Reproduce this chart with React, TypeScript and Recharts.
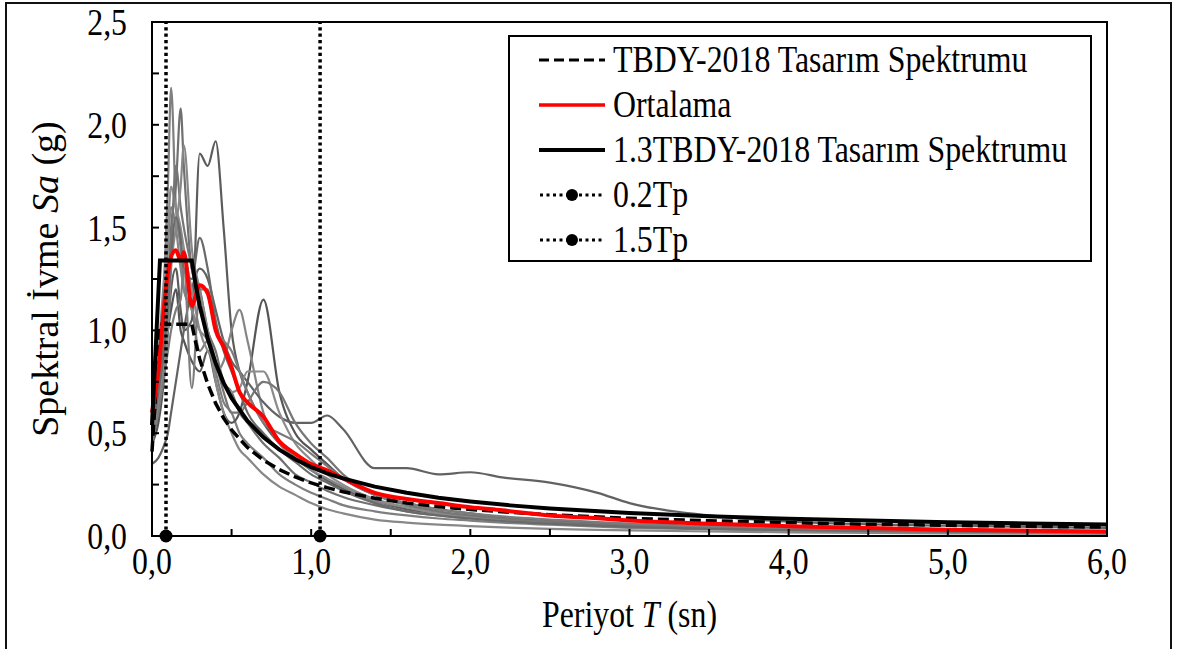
import React from 'react';
import { LineChart, Line, XAxis, YAxis, ReferenceArea } from 'recharts';

const FONT = '"Liberation Serif", "Times New Roman", Times, serif';
const SQUEEZE = 0.86; // the figure's text is a bit narrow

// periods of the recorded spectra (s)
const periodT = [0, 0.04, 0.08, 0.1, 0.12, 0.15, 0.18, 0.2, 0.25, 0.3, 0.35, 0.4, 0.45, 0.5, 0.55, 0.6, 0.7, 0.8, 0.9, 1.0, 1.1, 1.2, 1.4, 1.6, 1.8, 2.0, 2.2, 2.5, 2.8, 3.0, 3.5, 4.0, 5.0, 6.0];

// scaled record spectra Sa (g)
const rec01 = [0.5, 0.8, 1.3, 1.7, 2.18, 1.6, 1.4, 1.2, 1.1, 0.9, 0.95, 0.8, 0.65, 0.6, 0.5, 0.45, 0.38, 0.3, 0.25, 0.21, 0.18, 0.15, 0.12, 0.1, 0.085, 0.075, 0.065, 0.055, 0.045, 0.04, 0.032, 0.027, 0.02, 0.015];
const rec02 = [0.55, 0.7, 1.0, 1.2, 1.5, 1.7, 2.08, 1.8, 1.3, 1.2, 1.0, 0.9, 0.75, 0.7, 0.6, 0.55, 0.45, 0.38, 0.3, 0.26, 0.22, 0.19, 0.15, 0.12, 0.1, 0.085, 0.075, 0.062, 0.052, 0.046, 0.036, 0.03, 0.022, 0.017];
const rec03 = [0.48, 0.6, 0.9, 1.0, 1.2, 1.3, 1.1, 1.0, 1.05, 1.86, 1.8, 1.92, 1.5, 1.0, 0.8, 0.7, 0.55, 0.45, 0.38, 0.32, 0.27, 0.23, 0.17, 0.13, 0.11, 0.09, 0.08, 0.065, 0.055, 0.05, 0.04, 0.033, 0.025, 0.02];
const rec04 = [0.45, 0.55, 0.8, 1.0, 1.1, 1.2, 1.0, 0.95, 0.85, 0.8, 0.9, 0.75, 0.6, 0.55, 0.6, 0.75, 1.15, 0.7, 0.5, 0.42, 0.35, 0.28, 0.2, 0.16, 0.13, 0.11, 0.09, 0.075, 0.062, 0.055, 0.045, 0.037, 0.028, 0.022];
const rec05 = [0.5, 0.7, 1.1, 1.4, 1.6, 1.5, 1.3, 1.2, 1.1, 1.0, 0.95, 0.8, 0.85, 1.0, 1.1, 0.95, 0.6, 0.45, 0.38, 0.32, 0.28, 0.24, 0.17, 0.14, 0.11, 0.095, 0.08, 0.065, 0.055, 0.05, 0.04, 0.033, 0.025, 0.02];
const rec06 = [0.35, 0.38, 0.45, 0.5, 0.6, 0.75, 0.9, 1.0, 1.2, 1.3, 1.25, 1.1, 0.95, 0.85, 0.8, 0.75, 0.65, 0.58, 0.55, 0.55, 0.586, 0.52, 0.33, 0.33, 0.3, 0.31, 0.285, 0.26, 0.21, 0.16, 0.1, 0.07, 0.05, 0.04];
const rec07 = [0.6, 0.9, 1.3, 1.5, 1.7, 1.6, 1.5, 1.4, 1.2, 1.0, 0.9, 0.85, 0.75, 0.7, 0.72, 0.8, 0.8, 0.6, 0.45, 0.37, 0.3, 0.25, 0.18, 0.14, 0.11, 0.09, 0.078, 0.065, 0.055, 0.048, 0.038, 0.031, 0.023, 0.018];
const rec08 = [0.55, 0.75, 1.0, 1.2, 1.4, 1.8, 1.6, 1.5, 1.3, 1.1, 1.0, 0.85, 0.7, 0.6, 0.6, 0.65, 0.75, 0.7, 0.55, 0.45, 0.38, 0.3, 0.2, 0.15, 0.12, 0.1, 0.085, 0.07, 0.058, 0.05, 0.04, 0.032, 0.024, 0.018];
const rec09 = [0.5, 0.65, 0.85, 1.0, 1.3, 1.5, 1.7, 1.9, 1.4, 1.2, 1.0, 0.75, 0.6, 0.5, 0.42, 0.38, 0.3, 0.24, 0.2, 0.16, 0.13, 0.11, 0.08, 0.065, 0.055, 0.048, 0.042, 0.035, 0.03, 0.027, 0.022, 0.018, 0.013, 0.01];
const rec10 = [0.5, 0.7, 0.95, 1.1, 1.35, 1.55, 1.45, 1.3, 1.25, 1.45, 1.3, 1.05, 0.9, 0.8, 0.7, 0.6, 0.5, 0.42, 0.36, 0.3, 0.26, 0.22, 0.16, 0.12, 0.1, 0.085, 0.073, 0.06, 0.05, 0.045, 0.035, 0.029, 0.021, 0.016];
const rec11 = [0.45, 0.6, 0.8, 0.9, 1.0, 1.1, 1.15, 1.3, 0.72, 1.2, 1.2, 1.0, 0.95, 0.9, 0.8, 0.7, 0.55, 0.5, 0.46, 0.4, 0.34, 0.28, 0.2, 0.16, 0.13, 0.11, 0.095, 0.08, 0.068, 0.06, 0.048, 0.04, 0.03, 0.023];

// mean of the records (red)
const meanSa = [0.6, 0.8, 1.15, 1.28, 1.36, 1.39, 1.34, 1.38, 1.12, 1.22, 1.18, 1.0, 0.92, 0.82, 0.7, 0.65, 0.58, 0.46, 0.4, 0.35, 0.32, 0.28, 0.21, 0.18, 0.16, 0.14, 0.125, 0.1, 0.086, 0.075, 0.06, 0.048, 0.03, 0.022];

// design spectra
const designT = [0, 0.05, 0.25, 0.275, 0.3, 0.35, 0.4, 0.45, 0.5, 0.6, 0.7, 0.8, 0.9, 1.0, 1.1, 1.2, 1.4, 1.6, 1.8, 2.0, 2.25, 2.5, 3.0, 3.5, 4.0, 4.5, 5.0, 5.5, 6.0];
const tbdySa = [0.41, 1.03, 1.03, 0.94, 0.86, 0.74, 0.645, 0.573, 0.516, 0.43, 0.369, 0.323, 0.287, 0.258, 0.235, 0.215, 0.184, 0.161, 0.143, 0.129, 0.115, 0.103, 0.086, 0.074, 0.065, 0.057, 0.052, 0.047, 0.043];
const tbdy13Sa = [0.54, 1.34, 1.34, 1.22, 1.12, 0.96, 0.84, 0.745, 0.67, 0.56, 0.48, 0.42, 0.373, 0.335, 0.305, 0.28, 0.24, 0.21, 0.186, 0.168, 0.149, 0.134, 0.112, 0.096, 0.084, 0.075, 0.067, 0.061, 0.056];

const tp02 = 0.088;
const tp15 = 1.056;

const xTicks = [0, 0.5, 1, 1.5, 2, 2.5, 3, 3.5, 4, 4.5, 5, 5.5, 6];
const yTicks = [0, 0.25, 0.5, 0.75, 1, 1.25, 1.5, 1.75, 2, 2.25, 2.5];

const legendLabels = ['TBDY-2018 Tasarım Spektrumu', 'Ortalama', '1.3TBDY-2018 Tasarım Spektrumu', '0.2Tp', '1.5Tp'];

const records = [rec01, rec02, rec03, rec04, rec05, rec06, rec07, rec08, rec09, rec10, rec11];
const recordColors = ['#7f7f7f', '#707070', '#5c5c5c', '#555555', '#858585', '#626262', '#8c8c8c', '#767676', '#888888', '#6a6a6a', '#7c7c7c'];

const toPoints = (ts: number[], vals: number[]) => ts.map((T, i) => ({ T, Sa: vals[i] }));
const comma = (v: number) => v.toFixed(1).replace('.', ',');

function XTick(props: any) {
  const { x, y, payload } = props;
  if (!Number.isInteger(payload.value)) return <g />;
  return (
    <g transform={`translate(${x},${y}) scale(${SQUEEZE},1)`}>
      <text x={0} y={0} dy="0.72em" textAnchor="middle" fontFamily={FONT} fontSize={37} fill="#000">
        {comma(payload.value)}
      </text>
    </g>
  );
}

function YTick(props: any) {
  const { x, y, payload } = props;
  if (Math.abs(payload.value * 2 - Math.round(payload.value * 2)) > 1e-6) return <g />;
  return (
    <g transform={`translate(${x},${y}) scale(${SQUEEZE},1)`}>
      <text x={0} y={0} dy="0.35em" textAnchor="end" fontFamily={FONT} fontSize={37} fill="#000">
        {comma(payload.value)}
      </text>
    </g>
  );
}

function LegendIcon({ i }: { i: number }) {
  if (i === 0) return <line x1={2} y1={10} x2={68} y2={10} stroke="#000" strokeWidth={3} strokeDasharray="10 5" />;
  if (i === 1) return <line x1={2} y1={10} x2={68} y2={10} stroke="#ff0000" strokeWidth={3.5} />;
  if (i === 2) return <line x1={2} y1={10} x2={68} y2={10} stroke="#000" strokeWidth={4} />;
  return (
    <g>
      <line x1={3} y1={10} x2={68} y2={10} stroke="#000" strokeWidth={3} strokeDasharray="3 3.5" />
      <circle cx={35} cy={10} r={6} fill="#000" />
    </g>
  );
}

function LegendBox() {
  return (
    <div
      style={{
        position: 'absolute',
        left: 508,
        top: 35,
        width: 584,
        height: 227,
        border: '2px solid #000',
        background: '#fff',
        boxSizing: 'border-box',
        paddingLeft: 27,
        fontFamily: FONT,
        fontSize: 37,
        color: '#000',
      }}
    >
      {legendLabels.map((label, i) => (
        <div key={label} style={{ display: 'flex', alignItems: 'center', height: 45 }}>
          <svg width={72} height={20} style={{ flex: 'none' }}>
            <LegendIcon i={i} />
          </svg>
          <span style={{ display: 'inline-block', marginLeft: 4, whiteSpace: 'nowrap', transform: `scaleX(${SQUEEZE})`, transformOrigin: 'left center', lineHeight: '45px' }}>
            {label}
          </span>
        </div>
      ))}
    </div>
  );
}

const markerDot = (props: any) =>
  props.index === 0 ? (
    <circle key={`m${props.index}`} cx={props.cx} cy={props.cy} r={6.5} fill="#000" />
  ) : (
    <g key={`m${props.index}`} />
  );

export default function App() {
  return (
    <div style={{ position: 'absolute', left: 0, top: 0, width: 1178, height: 649, overflow: 'hidden', background: '#fff' }}>
      <div style={{ position: 'absolute', left: 5, top: 2, width: 1167, height: 700, border: '2px solid #111', boxSizing: 'border-box' }} />
      <div style={{ position: 'absolute', left: 0, top: 0 }}>
        <LineChart width={1178} height={649} margin={{ top: 22, right: 71, bottom: 13, left: 20 }}>
          <XAxis
            type="number"
            dataKey="T"
            domain={[0, 6]}
            ticks={xTicks}
            interval={0}
            height={100}
            stroke="#000"
            axisLine={{ stroke: '#000', strokeWidth: 2 }}
            tickLine={{ stroke: '#000', strokeWidth: 2 }}
            tickSize={-7}
            tickMargin={18}
            tick={<XTick />}
            label={{
              content: (p: any) => {
                const vb = p.viewBox;
                return (
                  <g transform={`translate(${vb.x + vb.width / 2},${vb.y + 91}) scale(${SQUEEZE},1)`}>
                    <text x={0} y={0} textAnchor="middle" fontFamily={FONT} fontSize={37} fill="#000">
                      Periyot <tspan fontStyle="italic">T</tspan> (sn)
                    </text>
                  </g>
                );
              },
            }}
          />
          <YAxis
            type="number"
            dataKey="Sa"
            domain={[0, 2.5]}
            ticks={yTicks}
            interval={0}
            width={132}
            axisLine={{ stroke: '#000', strokeWidth: 2 }}
            tickLine={{ stroke: '#000', strokeWidth: 2 }}
            tickSize={-7}
            tickMargin={32}
            tick={<YTick />}
            label={{
              content: (p: any) => {
                const vb = p.viewBox;
                const cx = vb.x + 38;
                const cy = vb.y + vb.height / 2;
                return (
                  <text x={cx} y={cy} transform={`rotate(-90 ${cx} ${cy})`} textAnchor="middle" fontFamily={FONT} fontSize={38} fill="#000">
                    Spektral İvme <tspan fontStyle="italic">Sa</tspan> (g)
                  </text>
                );
              },
            }}
          />
          <ReferenceArea x1={0} x2={6} y1={0} y2={2.5} fill="none" stroke="#000" strokeWidth={2} />

          {records.map((rec, i) => (
            <Line
              key={`rec${i}`}
              data={toPoints(periodT, rec)}
              dataKey="Sa"
              type="monotone"
              stroke={recordColors[i]}
              strokeWidth={2.2}
              dot={false}
              isAnimationActive={false}
            />
          ))}
          <Line data={toPoints(designT, tbdySa)} dataKey="Sa" type="linear" stroke="#000" strokeWidth={3.5} strokeDasharray="11 5" dot={false} isAnimationActive={false} />
          <Line data={toPoints(periodT, meanSa)} dataKey="Sa" type="monotone" stroke="#ff0000" strokeWidth={4} dot={false} isAnimationActive={false} />
          <Line data={toPoints(designT, tbdy13Sa)} dataKey="Sa" type="linear" stroke="#000" strokeWidth={4} dot={false} isAnimationActive={false} />
          <Line
            data={[{ T: tp02, Sa: 0 }, { T: tp02, Sa: 2.5 }]}
            dataKey="Sa"
            type="linear"
            stroke="#000"
            strokeWidth={3.5}
            strokeDasharray="3.2 3.2"
            dot={markerDot}
            isAnimationActive={false}
          />
          <Line
            data={[{ T: tp15, Sa: 0 }, { T: tp15, Sa: 2.5 }]}
            dataKey="Sa"
            type="linear"
            stroke="#000"
            strokeWidth={3.5}
            strokeDasharray="3.2 3.2"
            dot={markerDot}
            isAnimationActive={false}
          />
        </LineChart>
      </div>
      <LegendBox />
    </div>
  );
}
